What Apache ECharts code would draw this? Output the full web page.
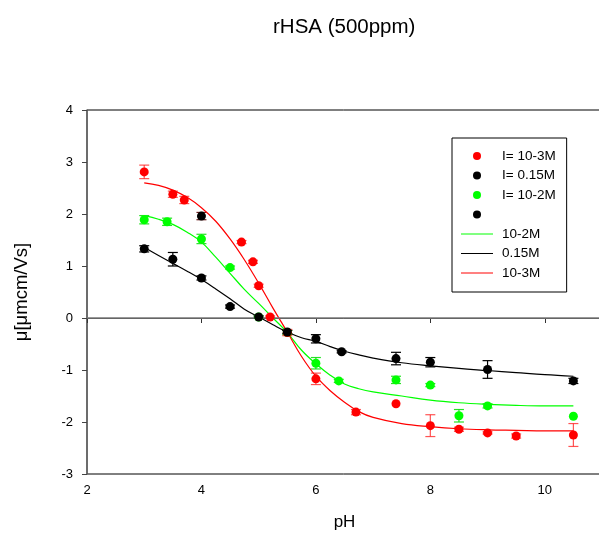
<!DOCTYPE html>
<html><head><meta charset="utf-8">
<script src="https://cdn.jsdelivr.net/npm/echarts@6/dist/echarts.min.js"></script>
<style>html,body{margin:0;padding:0;background:#fff}#c{width:599px;height:535px}</style>
</head><body><div id="c"></div>
<script>
// ---- data ----
const titleText = 'rHSA (500ppm)';
const xTicks = [2, 4, 6, 8, 10];
const yTicks = [-3, -2, -1, 0, 1, 2, 3, 4];

const redX   = [3.0, 3.5, 3.7, 4.7, 4.9, 5.0, 5.2, 5.5, 6.0, 6.7, 7.4, 8.0, 8.5, 9.0, 9.5, 10.5];
const redY   = [2.81, 2.38, 2.27, 1.46, 1.08, 0.62, 0.02, -0.28, -1.17, -1.81, -1.65, -2.07, -2.14, -2.21, -2.27, -2.25];
const redErr = [0.13, 0.06, 0.07, 0.03, 0.03, 0.03, 0.02, 0.06, 0.11, 0.05, 0, 0.21, 0.04, 0.02, 0.04, 0.22];

const blackX   = [3.0, 3.5, 4.0, 4.5, 5.0, 5.5, 6.0, 6.45, 7.4, 8.0, 9.0, 10.5];
const blackY   = [1.33, 1.13, 0.77, 0.22, 0.02, -0.27, -0.40, -0.65, -0.78, -0.85, -0.99, -1.21];
const blackErr = [0.06, 0.13, 0.04, 0.03, 0.02, 0.03, 0.08, 0.02, 0.12, 0.09, 0.17, 0.05];

const greenX   = [3.0, 3.4, 4.0, 4.5, 5.0, 5.5, 6.0, 6.4, 7.4, 8.0, 8.5, 9.0, 10.5];
const greenY   = [1.89, 1.85, 1.52, 0.97, 0.02, -0.28, -0.87, -1.21, -1.19, -1.29, -1.88, -1.69, -1.89];
const greenErr = [0.08, 0.07, 0.09, 0.03, 0.02, 0.04, 0.11, 0.03, 0.07, 0.03, 0.12, 0.04, 0];

const black2X   = [4.0];
const black2Y   = [1.96];
const black2Err = [0.07];

const fitX     = [3.0, 3.25, 3.5, 3.75, 4.0, 4.25, 4.5, 4.75, 5.0, 5.25, 5.5, 5.75, 6.0, 6.25, 6.5, 6.75, 7.0, 7.5, 8.0, 8.5, 9.0, 9.5, 10.0, 10.5];
const fitRed   = [2.60, 2.55, 2.46, 2.32, 2.12, 1.86, 1.52, 1.12, 0.67, 0.19, -0.27, -0.74, -1.12, -1.40, -1.62, -1.80, -1.91, -2.03, -2.09, -2.13, -2.15, -2.16, -2.17, -2.17];
const fitGreen = [1.97, 1.90, 1.80, 1.65, 1.46, 1.17, 0.86, 0.55, 0.28, 0.00, -0.28, -0.62, -0.88, -1.10, -1.27, -1.36, -1.42, -1.50, -1.58, -1.63, -1.66, -1.68, -1.69, -1.69];
const fitBlack = [1.36, 1.20, 1.05, 0.90, 0.74, 0.56, 0.37, 0.17, 0.02, -0.13, -0.27, -0.38, -0.45, -0.55, -0.64, -0.71, -0.77, -0.86, -0.92, -0.97, -1.01, -1.05, -1.09, -1.12];

const pointNames = ['I= 10-3M', 'I= 0.15M', 'I= 10-2M', ' '];
const fitNames = ['10-2M', '0.15M', '10-3M'];

// ---- chart ----
const FONT = "'Liberation Sans', Arial, sans-serif";
const pts = (xs, ys) => xs.map((x, i) => [x, ys[i]]);
const bars = (xs, ys, es) => xs.map((x, i) => [x, ys[i], es[i]]);

function errSeries(data, color) {
  return {
    type: 'custom', silent: true, z: 3, data: data,
    encode: { x: 0, y: 1 },
    renderItem: function (params, api) {
      const x = api.value(0), y = api.value(1), e = api.value(2);
      if (!e) return null;
      const t = api.coord([x, y + e]), b = api.coord([x, y - e]);
      const hw = 5;
      const st = { stroke: color, lineWidth: 1.2 };
      return { type: 'group', children: [
        { type: 'line', shape: { x1: t[0], y1: t[1], x2: b[0], y2: b[1] }, style: st },
        { type: 'line', shape: { x1: t[0] - hw, y1: t[1], x2: t[0] + hw, y2: t[1] }, style: st },
        { type: 'line', shape: { x1: b[0] - hw, y1: b[1], x2: b[0] + hw, y2: b[1] }, style: st }
      ]};
    }
  };
}
function scatter(name, xs, ys, color) {
  return { name: name, type: 'scatter', data: pts(xs, ys), symbol: 'circle', symbolSize: 9, z: 5,
           itemStyle: { color: color, opacity: 1 } };
}
function fit(name, ys, color) {
  return { name: name, type: 'line', data: pts(fitX, ys), symbol: 'none', showSymbol: false,
           smooth: 0.4, z: 4,
           lineStyle: { color: color, width: 1.2 }, itemStyle: { color: color } };
}

const legendData = pointNames.map(n => ({ name: n, icon: 'circle' }))
  .concat(fitNames.map(n => ({ name: n, icon: 'path://M0,0H32V1H0Z' })));

const chart = echarts.init(document.getElementById('c'), null, { renderer: 'canvas' });
chart.setOption({
  animation: false,
  backgroundColor: '#fff',
  textStyle: { fontFamily: FONT },
  title: { text: titleText, left: 273, top: 17, padding: 0,
           textStyle: { fontSize: 20.5, fontWeight: 'normal', color: '#000', fontFamily: FONT } },
  grid: { left: 87, top: 110, width: 515, height: 364, outerBoundsMode: 'none', containLabel: false,
          show: true, borderColor: '#000', borderWidth: 1 },
  legend: {
    orient: 'vertical', left: 452, top: 138, padding: [11, 11, 12, 9],
    borderColor: '#000', borderWidth: 1, itemGap: 5.5,
    itemWidth: 32, itemHeight: 8,
    data: legendData,
    textStyle: { fontSize: 13.5, color: '#000', fontFamily: FONT, padding: [0, 0, 0, 4] }
  },
  xAxis: {
    type: 'value', min: 2, max: 11, interval: 2,
    name: 'pH', nameLocation: 'middle', nameGap: 40,
    nameTextStyle: { fontSize: 17, color: '#000', fontFamily: FONT },
    axisLine: { show: true, lineStyle: { color: '#333', width: 1 } },
    axisTick: { show: true, length: 5, lineStyle: { color: '#333' } },
    axisLabel: { fontSize: 13, color: '#000', margin: 10,
                 formatter: v => (xTicks.indexOf(v) >= 0 ? String(v) : '') },
    splitLine: { show: false }
  },
  yAxis: {
    type: 'value', min: -3, max: 4, interval: 1,
    name: 'μ[μmcm/Vs]', nameLocation: 'middle', nameGap: 56,
    nameTextStyle: { fontSize: 18.5, color: '#000', fontFamily: FONT },
    axisLine: { show: true, lineStyle: { color: '#666', width: 1.5 } },
    axisTick: { show: true, length: 5, lineStyle: { color: '#444' } },
    axisLabel: { fontSize: 13, color: '#000', margin: 14,
                 formatter: v => (yTicks.indexOf(v) >= 0 ? String(v) : '') },
    splitLine: { show: false }
  },
  series: [
    errSeries(bars(greenX, greenY, greenErr), 'rgba(0,220,0,0.85)'),
    errSeries(bars(redX, redY, redErr), 'rgba(255,40,40,0.8)'),
    errSeries(bars(blackX, blackY, blackErr), '#000'),
    errSeries(bars(black2X, black2Y, black2Err), '#6b1f1f'),
    fit('10-2M', fitGreen, '#00ff00'),
    fit('0.15M', fitBlack, '#000000'),
    Object.assign(fit('10-3M', fitRed, '#ff0000'), {
      markLine: { silent: true, symbol: 'none', label: { show: false },
                  lineStyle: { color: '#777', width: 1.5, type: 'solid' },
                  data: [{ yAxis: 0 }] }
    }),
    scatter('I= 10-2M', greenX, greenY, '#00ff00'),
    scatter('I= 10-3M', redX, redY, '#ff0000'),
    scatter('I= 0.15M', blackX, blackY, '#000000'),
    scatter(' ', black2X, black2Y, '#000000')
  ]
});
</script>
</body></html>
